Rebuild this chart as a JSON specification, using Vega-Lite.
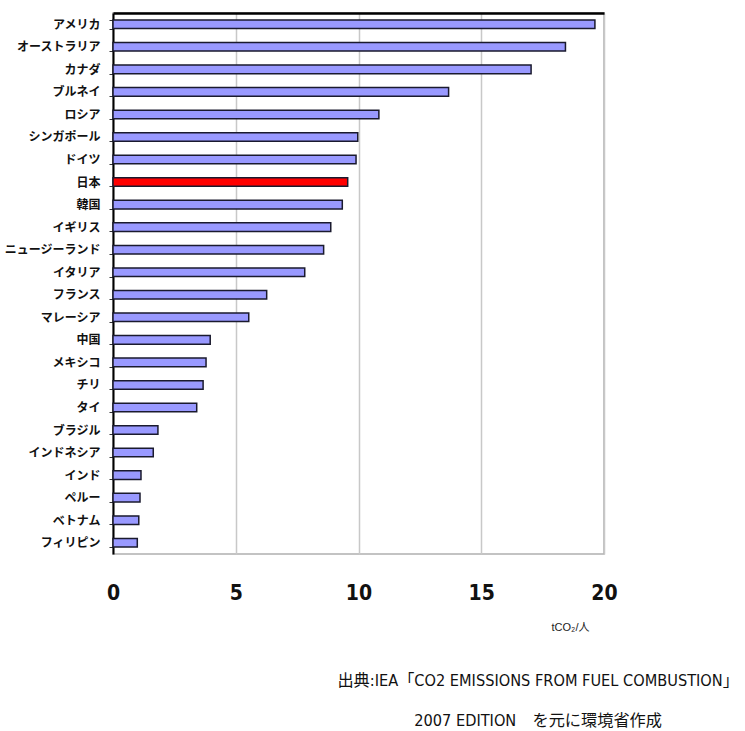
{
  "$schema": "https://vega.github.io/schema/vega-lite/v6.json",
  "width": 491,
  "height": 541,
  "autosize": {"type": "none"},
  "padding": {"left": 113, "top": 13, "right": 141, "bottom": 177},
  "background": "white",
  "config": {
    "view": {"stroke": "#b0b0b0", "strokeWidth": 1.5},
    "font": "Liberation Sans, Noto Sans CJK JP, sans-serif"
  },
  "title": {
    "text": ["出典:IEA「CO2 EMISSIONS FROM FUEL COMBUSTION」", "2007 EDITION　を元に環境省作成"],
    "orient": "bottom",
    "anchor": "end",
    "align": "center",
    "dx": -79,
    "offset": 41,
    "fontSize": 16.2,
    "fontWeight": "normal",
    "lineHeight": 40,
    "font": "DejaVu Sans Condensed, Liberation Sans, Noto Sans CJK JP, sans-serif",
    "color": "#111"
  },
  "data": {
    "values": [
      {"country": "アメリカ", "value": 19.63, "japan": "no"},
      {"country": "オーストラリア", "value": 18.43, "japan": "no"},
      {"country": "カナダ", "value": 17.03, "japan": "no"},
      {"country": "ブルネイ", "value": 13.67, "japan": "no"},
      {"country": "ロシア", "value": 10.83, "japan": "no"},
      {"country": "シンガポール", "value": 9.97, "japan": "no"},
      {"country": "ドイツ", "value": 9.9, "japan": "no"},
      {"country": "日本", "value": 9.56, "japan": "yes"},
      {"country": "韓国", "value": 9.34, "japan": "no"},
      {"country": "イギリス", "value": 8.87, "japan": "no"},
      {"country": "ニュージーランド", "value": 8.58, "japan": "no"},
      {"country": "イタリア", "value": 7.81, "japan": "no"},
      {"country": "フランス", "value": 6.26, "japan": "no"},
      {"country": "マレーシア", "value": 5.53, "japan": "no"},
      {"country": "中国", "value": 3.96, "japan": "no"},
      {"country": "メキシコ", "value": 3.79, "japan": "no"},
      {"country": "チリ", "value": 3.67, "japan": "no"},
      {"country": "タイ", "value": 3.41, "japan": "no"},
      {"country": "ブラジル", "value": 1.83, "japan": "no"},
      {"country": "インドネシア", "value": 1.64, "japan": "no"},
      {"country": "インド", "value": 1.14, "japan": "no"},
      {"country": "ペルー", "value": 1.1, "japan": "no"},
      {"country": "ベトナム", "value": 1.05, "japan": "no"},
      {"country": "フィリピン", "value": 0.99, "japan": "no"}
    ]
  },
  "encoding": {
    "y": {
      "field": "country",
      "type": "nominal",
      "sort": null,
      "scale": {"paddingInner": 0.62, "paddingOuter": 0.31},
      "axis": {
        "title": null,
        "domainColor": "#000",
        "domainWidth": 2,
        "tickBand": "extent",
        "tickColor": "#333",
        "tickSize": 4,
        "labelFontSize": 12,
        "labelFontWeight": "bold",
        "labelColor": "#111",
        "labelPadding": 9,
        "labelFont": "Noto Sans CJK JP"
      }
    },
    "color": {
      "field": "japan",
      "type": "nominal",
      "scale": {"domain": ["no", "yes"], "range": ["#9999ff", "#ff0000"]},
      "legend": null
    }
  },
  "resolve": {"axis": {"x": "independent"}},
  "layer": [
    {
      "mark": {"type": "bar", "stroke": "#1a1a2e", "strokeWidth": 1.5},
      "encoding": {
        "x": {
          "field": "value",
          "type": "quantitative",
          "scale": {"domain": [0, 20], "nice": false},
          "axis": {
            "values": [0, 5, 10, 15, 20],
            "title": "tCO₂/人",
            "titleFontSize": 11,
            "titleFontWeight": "normal",
            "titleFont": "Liberation Sans, Noto Sans CJK JP",
            "titleX": 457,
            "titleY": 67,
            "titleAlign": "center",
            "titleColor": "#222",
            "domain": false,
            "ticks": false,
            "grid": true,
            "gridColor": "#c8c8c8",
            "gridWidth": 1.5,
            "labelFlush": false,
            "labelFontSize": 21,
            "labelFont": "DejaVu Sans Condensed, Liberation Sans",
            "labelFontWeight": "bold",
            "labelColor": "#111",
            "labelPadding": 28
          }
        }
      }
    },
    {
      "mark": {"type": "bar", "opacity": 0},
      "encoding": {
        "x": {
          "field": "value",
          "type": "quantitative",
          "scale": {"domain": [0, 20], "nice": false},
          "axis": {
            "orient": "top",
            "title": null,
            "labels": false,
            "ticks": false,
            "grid": false,
            "domain": true,
            "domainColor": "#000",
            "domainWidth": 2.5
          }
        }
      }
    }
  ]
}
